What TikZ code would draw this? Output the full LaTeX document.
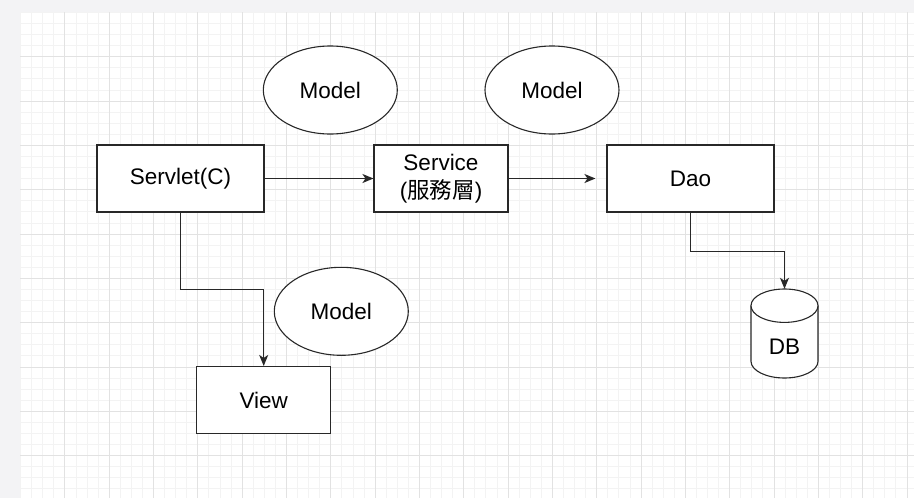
\documentclass[tikz,border=0pt]{standalone}
\usepackage{fontspec}
\setmainfont{Liberation Sans}
\newfontfamily\cjk{Noto Sans CJK TC}
\usetikzlibrary{shapes.geometric,arrows.meta}
\definecolor{gridminor}{RGB}{243,243,243}
\definecolor{gridmajor}{RGB}{226,226,226}
\definecolor{outside}{RGB}{243,243,245}
\definecolor{ink}{RGB}{40,40,40}
\tikzset{
    box/.style={draw=ink,line width=1.1pt,fill=white,minimum height=67pt,inner sep=0pt,
        font=\fontsize{22.5}{28}\selectfont,align=center},
    model/.style={ellipse,draw=ink,line width=1.1pt,fill=white,minimum width=134pt,
        minimum height=88pt,inner sep=0pt,font=\fontsize{22.5}{28}\selectfont},
    arr/.style={draw=ink,line width=1.2pt,-{Stealth[length=11pt,width=9pt,inset=3pt]}}
}
\begin{document}
\begin{tikzpicture}[x=1pt,y=-1pt]
        \useasboundingbox (0,0) rectangle (914,498);
        %% canvas and grid
        \fill[outside] (0,0) rectangle (914,498);
        \fill[white,draw=black!8] (20,12) rectangle (915,499);
        \foreach \x in {20.5,31.58,...,914}
            \draw[gridminor,line width=0.8pt] (\x,12) -- (\x,498);
        \foreach \y in {12.4,23.48,...,498}
            \draw[gridminor,line width=0.8pt] (20,\y) -- (914,\y);
        \foreach \x in {64.82,109.14,...,914}
            \draw[gridmajor,line width=0.8pt] (\x,12) -- (\x,498);
        \foreach \y in {56.72,101.04,...,498}
            \draw[gridmajor,line width=0.8pt] (20,\y) -- (914,\y);
        %% boxes
        \node[box,minimum width=167pt] (servlet) at (180.5,178.5) {Servlet(C)};
        \node[box,minimum width=134pt] (service) at (441,178.5) {Service\\({\cjk 服務層})};
        \node[box,minimum width=167pt] (dao) at (690.5,178.5) {Dao};
        \node[box,minimum width=134pt] (view) at (263.7,400) {View};
        %% models
        \foreach \n/\x/\y in {modelA/330.3/90,modelB/552/90,modelC/341.3/311.3}
            \node[model] (\n) at (\x,\y) {Model};
        %% DB
        \node[minimum width=67pt,minimum height=89pt,inner sep=0pt] (db) at (784.5,333.5) {};
        \draw[draw=ink,line width=1.1pt,fill=white] (751,305.7) -- (751,361.3)
            arc[start angle=180,end angle=360,x radius=33.5pt,y radius=16.7pt] -- (818,305.7);
        \draw[draw=ink,line width=1.1pt,fill=white] (784.5,305.7) ellipse[x radius=33.5pt,y radius=16.7pt];
        \node[font=\fontsize{22.5}{28}\selectfont] (dbtext) at (784.5,347) {DB};
        %% connectors
        \draw[arr] (servlet) -- (service);
        \draw[arr,shorten >=11pt] (service) -- (dao);
        \draw[arr] (servlet.south) -- ++(0,77) -| (view.north);
        \draw[arr] (dao.south) -- ++(0,39) -| (db.north);
\end{tikzpicture}
\end{document}
